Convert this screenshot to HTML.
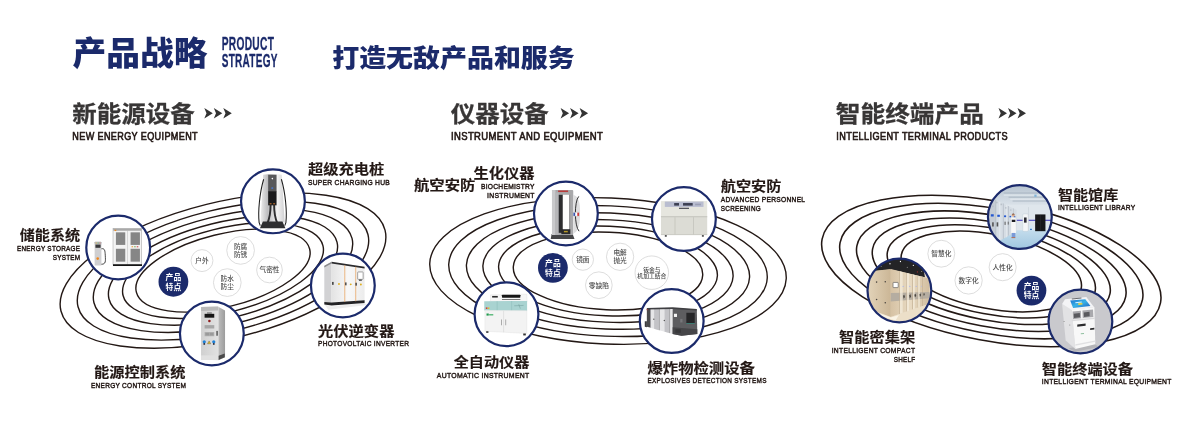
<!DOCTYPE html>
<html lang="zh-CN">
<head>
<meta charset="utf-8">
<title>产品战略</title>
<style>
html,body{margin:0;padding:0;background:#fff;}
body{width:1200px;height:422px;overflow:hidden;}
svg{display:block;will-change:transform;}
text{font-family:"Liberation Sans","Noto Sans CJK SC",sans-serif;}
.cn{font-family:"Noto Sans CJK SC","Liberation Sans",sans-serif;}
</style>
</head>
<body>
<svg width="1200" height="422" viewBox="0 0 1200 422">
<rect width="1200" height="422" fill="#fff"/>
<text transform="translate(72.6 65) scale(1.0547 1.0312)" font-size="32" font-weight="900" fill="#1b2a6b" class="cn">产品战略</text>
<text transform="translate(221.7 50.3) scale(0.3189 0.5750)" font-size="32" font-weight="700" fill="#1b2a6b" stroke="#1b2a6b" stroke-width="0.52" stroke-linejoin="round" letter-spacing="0.96">PRODUCT</text>
<text transform="translate(221.7 67.2) scale(0.3125 0.5750)" font-size="32" font-weight="700" fill="#1b2a6b" stroke="#1b2a6b" stroke-width="0.52" stroke-linejoin="round" letter-spacing="0.96">STRATEGY</text>
<text transform="translate(332.2 66.6) scale(0.8424 0.7750)" font-size="32" font-weight="900" fill="#1b2a6b" class="cn">打造无敌产品和服务</text>
<text transform="translate(72.3 122.1) scale(0.7656 0.7156)" font-size="32" font-weight="700" fill="#383636" class="cn" stroke="#383636" stroke-width="0.35" stroke-linejoin="round">新能源设备</text>
<g fill="#333">
<path d="M204.3 107.9 L212.8 113.2 L204.3 118.5 L206.5 113.2 Z"/>
<path d="M213.8 107.9 L222.3 113.2 L213.8 118.5 L216 113.2 Z"/>
<path d="M223.3 107.9 L231.8 113.2 L223.3 118.5 L225.5 113.2 Z"/>
</g>
<text transform="translate(72.3 139.9) scale(0.2842 0.3125)" font-size="32" font-weight="400" fill="#231815" stroke="#231815" stroke-width="1.92" stroke-linejoin="round" letter-spacing="1.28">NEW ENERGY EQUIPMENT</text>
<text transform="translate(450.8 122.1) scale(0.7656 0.7156)" font-size="32" font-weight="700" fill="#383636" class="cn" stroke="#383636" stroke-width="0.35" stroke-linejoin="round">仪器设备</text>
<g fill="#333">
<path d="M560.6 107.9 L569.1 113.2 L560.6 118.5 L562.8 113.2 Z"/>
<path d="M570.1 107.9 L578.6 113.2 L570.1 118.5 L572.3 113.2 Z"/>
<path d="M579.6 107.9 L588.1 113.2 L579.6 118.5 L581.8 113.2 Z"/>
</g>
<text transform="translate(451 139.9) scale(0.2966 0.3125)" font-size="32" font-weight="400" fill="#231815" stroke="#231815" stroke-width="1.92" stroke-linejoin="round" letter-spacing="1.28">INSTRUMENT AND EQUIPMENT</text>
<text transform="translate(835.8 122.1) scale(0.7719 0.7156)" font-size="32" font-weight="700" fill="#383636" class="cn" stroke="#383636" stroke-width="0.35" stroke-linejoin="round">智能终端产品</text>
<g fill="#333">
<path d="M998.5 107.9 L1007 113.2 L998.5 118.5 L1000.7 113.2 Z"/>
<path d="M1008 107.9 L1016.5 113.2 L1008 118.5 L1010.2 113.2 Z"/>
<path d="M1017.5 107.9 L1026 113.2 L1017.5 118.5 L1019.7 113.2 Z"/>
</g>
<text transform="translate(836.3 140.4) scale(0.2864 0.3125)" font-size="32" font-weight="400" fill="#231815" stroke="#231815" stroke-width="1.92" stroke-linejoin="round" letter-spacing="1.28">INTELLIGENT TERMINAL PRODUCTS</text>
<g fill="none" stroke="#231815" stroke-width="1.4">
<ellipse cx="223.0" cy="270.6" rx="89.3" ry="36.4" transform="rotate(-14 223.0 270.6)"/>
<ellipse cx="223.0" cy="270.6" rx="103.0" ry="42.0" transform="rotate(-14 223.0 270.6)"/>
<ellipse cx="223.0" cy="270.6" rx="117.5" ry="48.0" transform="rotate(-14 223.0 270.6)"/>
<ellipse cx="223.0" cy="270.6" rx="133.0" ry="54.3" transform="rotate(-14 223.0 270.6)"/>
<ellipse cx="223.0" cy="270.6" rx="149.4" ry="61.0" transform="rotate(-14 223.0 270.6)"/>
<ellipse cx="223.0" cy="270.6" rx="167.0" ry="68.2" transform="rotate(-14 223.0 270.6)"/>
</g>
<g fill="none" stroke="#231815" stroke-width="1.4">
<ellipse cx="608.0" cy="271.0" rx="94.8" ry="38.8" transform="rotate(2.5 608.0 271.0)"/>
<ellipse cx="608.0" cy="271.0" rx="109.5" ry="44.8" transform="rotate(2.5 608.0 271.0)"/>
<ellipse cx="608.0" cy="271.0" rx="125.2" ry="51.2" transform="rotate(2.5 608.0 271.0)"/>
<ellipse cx="608.0" cy="271.0" rx="141.7" ry="58.0" transform="rotate(2.5 608.0 271.0)"/>
<ellipse cx="608.0" cy="271.0" rx="159.4" ry="65.2" transform="rotate(2.5 608.0 271.0)"/>
<ellipse cx="608.0" cy="271.0" rx="178.4" ry="73.0" transform="rotate(2.5 608.0 271.0)"/>
</g>
<g fill="none" stroke="#231815" stroke-width="1.55">
<ellipse cx="991.3" cy="271.5" rx="91.5" ry="37.2" transform="rotate(10.7 991.3 271.5)"/>
<ellipse cx="991.3" cy="271.4" rx="105.7" ry="42.9" transform="rotate(10.7 991.3 271.4)"/>
<ellipse cx="991.3" cy="271.3" rx="120.8" ry="49.0" transform="rotate(10.7 991.3 271.3)"/>
<ellipse cx="991.3" cy="271.2" rx="136.8" ry="55.5" transform="rotate(10.7 991.3 271.2)"/>
<ellipse cx="991.3" cy="271.1" rx="153.9" ry="62.3" transform="rotate(10.7 991.3 271.1)"/>
<ellipse cx="991.3" cy="271.0" rx="172.2" ry="69.7" transform="rotate(10.7 991.3 271.0)"/>
</g>
<circle cx="173.4" cy="281.75" r="14.9" fill="#1b2a6b"/>
<text transform="translate(173.4 280.35) scale(0.2437 0.2437)" font-size="32" font-weight="700" fill="#fff" text-anchor="middle" class="cn">产品</text>
<text transform="translate(173.4 289.55) scale(0.2437 0.2437)" font-size="32" font-weight="700" fill="#fff" text-anchor="middle" class="cn">特点</text>
<circle cx="202" cy="260.6" r="10.950000000000001" fill="#fff" stroke="#cfcfcf" stroke-width="0.7"/>
<text transform="translate(202 263.079) scale(0.2094 0.2094)" font-size="32" font-weight="500" fill="#4a4a4a" text-anchor="middle" class="cn">户外</text>
<circle cx="240.6" cy="250.4" r="13.85" fill="#fff" stroke="#cfcfcf" stroke-width="0.7"/>
<text transform="translate(240.6 248.929) scale(0.2094 0.2094)" font-size="32" font-weight="500" fill="#4a4a4a" text-anchor="middle" class="cn">防腐</text>
<text transform="translate(240.6 256.829) scale(0.2094 0.2094)" font-size="32" font-weight="500" fill="#4a4a4a" text-anchor="middle" class="cn">防锈</text>
<circle cx="227.3" cy="282.6" r="13.85" fill="#fff" stroke="#cfcfcf" stroke-width="0.7"/>
<text transform="translate(227.3 281.129) scale(0.2094 0.2094)" font-size="32" font-weight="500" fill="#4a4a4a" text-anchor="middle" class="cn">防水</text>
<text transform="translate(227.3 289.029) scale(0.2094 0.2094)" font-size="32" font-weight="500" fill="#4a4a4a" text-anchor="middle" class="cn">防尘</text>
<circle cx="269.5" cy="270" r="12.85" fill="#fff" stroke="#cfcfcf" stroke-width="0.7"/>
<text transform="translate(269.5 272.479) scale(0.2094 0.2094)" font-size="32" font-weight="500" fill="#4a4a4a" text-anchor="middle" class="cn">气密性</text>
<circle cx="552.9" cy="267.85" r="14.9" fill="#1b2a6b"/>
<text transform="translate(552.9 266.45) scale(0.2437 0.2437)" font-size="32" font-weight="700" fill="#fff" text-anchor="middle" class="cn">产品</text>
<text transform="translate(552.9 275.65) scale(0.2437 0.2437)" font-size="32" font-weight="700" fill="#fff" text-anchor="middle" class="cn">特点</text>
<circle cx="582.85" cy="259.65" r="10.65" fill="#fff" stroke="#cfcfcf" stroke-width="0.7"/>
<text transform="translate(582.85 262.129) scale(0.2094 0.2094)" font-size="32" font-weight="500" fill="#4a4a4a" text-anchor="middle" class="cn">镜面</text>
<circle cx="620.1" cy="256.8" r="13.65" fill="#fff" stroke="#cfcfcf" stroke-width="0.7"/>
<text transform="translate(620.1 255.329) scale(0.2094 0.2094)" font-size="32" font-weight="500" fill="#4a4a4a" text-anchor="middle" class="cn">电解</text>
<text transform="translate(620.1 263.229) scale(0.2094 0.2094)" font-size="32" font-weight="500" fill="#4a4a4a" text-anchor="middle" class="cn">抛光</text>
<circle cx="598.85" cy="285.2" r="13.35" fill="#fff" stroke="#cfcfcf" stroke-width="0.7"/>
<text transform="translate(598.85 287.679) scale(0.2094 0.2094)" font-size="32" font-weight="500" fill="#4a4a4a" text-anchor="middle" class="cn">零缺陷</text>
<circle cx="651.8" cy="272.7" r="16.75" fill="#fff" stroke="#cfcfcf" stroke-width="0.7"/>
<text transform="translate(651.8 271.546) scale(0.1812 0.1812)" font-size="32" font-weight="500" fill="#4a4a4a" text-anchor="middle" class="cn">钣金与</text>
<text transform="translate(651.8 278.146) scale(0.1812 0.1812)" font-size="32" font-weight="500" fill="#4a4a4a" text-anchor="middle" class="cn">机加工结合</text>
<circle cx="1031.45" cy="290.6" r="14.9" fill="#1b2a6b"/>
<text transform="translate(1031.45 289.2) scale(0.2437 0.2437)" font-size="32" font-weight="700" fill="#fff" text-anchor="middle" class="cn">产品</text>
<text transform="translate(1031.45 298.4) scale(0.2437 0.2437)" font-size="32" font-weight="700" fill="#fff" text-anchor="middle" class="cn">特点</text>
<circle cx="941.3" cy="253.7" r="13.450000000000001" fill="#fff" stroke="#cfcfcf" stroke-width="0.7"/>
<text transform="translate(941.3 256.179) scale(0.2094 0.2094)" font-size="32" font-weight="500" fill="#4a4a4a" text-anchor="middle" class="cn">智慧化</text>
<circle cx="968.6" cy="280.45" r="13.65" fill="#fff" stroke="#cfcfcf" stroke-width="0.7"/>
<text transform="translate(968.6 282.929) scale(0.2094 0.2094)" font-size="32" font-weight="500" fill="#4a4a4a" text-anchor="middle" class="cn">数字化</text>
<circle cx="1002.65" cy="267.2" r="13.55" fill="#fff" stroke="#cfcfcf" stroke-width="0.7"/>
<text transform="translate(1002.65 269.679) scale(0.2094 0.2094)" font-size="32" font-weight="500" fill="#4a4a4a" text-anchor="middle" class="cn">人性化</text>
<defs>
<clipPath id="cc"><circle r="32"/></clipPath>
<linearGradient id="gSilver" x1="0" x2="1" y1="0" y2="0"><stop offset="0" stop-color="#ededed"/><stop offset="0.3" stop-color="#bcbcbe"/><stop offset="0.7" stop-color="#f2f2f2"/><stop offset="1" stop-color="#d0d0d2"/></linearGradient>
<linearGradient id="gFace" x1="0" x2="1" y1="0" y2="0"><stop offset="0" stop-color="#e3e3e3"/><stop offset="0.5" stop-color="#f8f8f8"/><stop offset="1" stop-color="#ececec"/></linearGradient>
<linearGradient id="gCab" x1="0" x2="1" y1="0" y2="0"><stop offset="0" stop-color="#d0d0d0"/><stop offset="1" stop-color="#e2e2e2"/></linearGradient>
<linearGradient id="gSide" x1="0" x2="1" y1="0" y2="0"><stop offset="0" stop-color="#bdbdbd"/><stop offset="1" stop-color="#9c9c9c"/></linearGradient>
<linearGradient id="gFloor" x1="0" x2="0" y1="0" y2="1"><stop offset="0" stop-color="#c3dcec"/><stop offset="1" stop-color="#9cc4de"/></linearGradient>
<linearGradient id="gCeil" x1="0" x2="0" y1="0" y2="1"><stop offset="0" stop-color="#b4c1ce"/><stop offset="1" stop-color="#d9e1e8"/></linearGradient>
<linearGradient id="gBeige" x1="0" x2="1" y1="0" y2="0"><stop offset="0" stop-color="#d6c2a4"/><stop offset="0.5" stop-color="#e8dac2"/><stop offset="1" stop-color="#d2bea0"/></linearGradient>
<linearGradient id="gBeige2" x1="0" x2="1" y1="0" y2="0"><stop offset="0" stop-color="#e3d4ba"/><stop offset="1" stop-color="#cbb696"/></linearGradient>
<linearGradient id="gScreen" x1="0" x2="1" y1="0" y2="1"><stop offset="0" stop-color="#1c6fd0"/><stop offset="0.5" stop-color="#39b3e6"/><stop offset="1" stop-color="#1f5fc0"/></linearGradient>
</defs>
<g transform="translate(272.95 201.35)">
<circle r="32" fill="#fff"/>
<g clip-path="url(#cc)"><g transform="scale(0.16113) translate(-210.7 -213.2)">

<path d="M150 48 Q207 40 265 48 L284 345 L133 345 Z" fill="url(#gSilver)"/>
<path d="M153 76 C128 160 117 280 125 345 L132 364" fill="none" stroke="#1c1c1c" stroke-width="6.5"/>
<path d="M263 76 C288 160 299 280 291 345 L284 364" fill="none" stroke="#1c1c1c" stroke-width="6.5"/>
<rect x="181" y="48" width="52" height="104" fill="#58585a"/>
<rect x="181" y="150" width="52" height="88" fill="#1a1a1c"/>
<rect x="190" y="224" width="12" height="8" fill="#a0602a"/><rect x="212" y="224" width="12" height="8" fill="#a0602a"/>
<circle cx="207" cy="72" r="5" fill="#fff"/>
<rect x="201" y="126" width="11" height="10" fill="#4a76c8"/>
<path d="M196 236 C196 290 188 322 176 350" fill="none" stroke="#2e2e30" stroke-width="12"/>
<path d="M218 236 C218 290 226 322 238 350" fill="none" stroke="#2e2e30" stroke-width="12"/>
<path d="M148 338 L270 338 L288 380 L130 380 Z" fill="#2f2f31"/>
</g></g>
<circle r="31.9" fill="none" stroke="#1b2a6b" stroke-width="2.2"/>
</g>
<g transform="translate(118.2 247.5)">
<circle r="32" fill="#fff"/>
<g clip-path="url(#cc)"><g transform="scale(0.16113) translate(-212.2 -214.1)">

<rect x="180" y="95" width="178" height="228" fill="#f3f3f3" stroke="#9a9a9a" stroke-width="3"/>
<rect x="181" y="96" width="176" height="14" fill="#a9a9a9"/>
<rect x="190" y="104" width="10" height="8" fill="#f08a1c"/>
<line x1="270" y1="110" x2="270" y2="320" stroke="#b5b5b5" stroke-width="3"/>
<rect x="198" y="120" width="58" height="78" fill="#868686"/>
<rect x="289" y="120" width="58" height="78" fill="#868686"/>
<rect x="198" y="222" width="58" height="80" fill="#868686"/>
<rect x="289" y="222" width="58" height="80" fill="#868686"/>
<rect x="295" y="206" width="10" height="7" fill="#e8a040"/><rect x="311" y="206" width="10" height="7" fill="#7db36a"/><rect x="327" y="206" width="10" height="7" fill="#d05050"/>
<rect x="180" y="318" width="180" height="11" fill="#151515"/>
<rect x="66" y="178" width="42" height="148" rx="4" fill="#cfcfd1"/>
<rect x="66" y="178" width="42" height="18" rx="4" fill="#bdbdbf"/>
<rect x="71" y="196" width="32" height="20" fill="#3a3a3c"/>
<rect x="72" y="184" width="8" height="5" fill="#e0b040"/><rect x="84" y="184" width="8" height="5" fill="#60b060"/><rect x="95" y="184" width="8" height="5" fill="#d06060"/>
<circle cx="85" cy="283" r="8" fill="#f0861c"/>
<path d="M108 222 C130 218 130 235 132 262 C134 300 136 318 108 318" fill="none" stroke="#1c1c1c" stroke-width="5"/>
</g></g>
<circle r="31.9" fill="none" stroke="#1b2a6b" stroke-width="2.2"/>
</g>
<g transform="translate(342.85 285.5)">
<circle r="32" fill="#fff"/>
<g clip-path="url(#cc)"><g transform="scale(0.16113) translate(-210.1 -214.1)">

<path d="M95 330 L135 345 L345 322 L360 335 L120 365 Z" fill="#ededed"/>
<path d="M95 93 L140 68 L140 320 L95 318 Z" fill="#d2d2d4"/>
<path d="M140 68 L345 100 L345 308 L140 320 Z" fill="url(#gFace)"/>
<path d="M140 66 L345 97 L345 108 L140 78 Z" fill="#2b2b2d"/>
<path d="M95 92 L140 66 L140 78 L95 102 Z" fill="#8a8a8c"/>
<path d="M95 316 L140 320 L345 306 L345 322 L140 338 L95 332 Z" fill="#232325"/>
<line x1="222" y1="88" x2="222" y2="316" stroke="#e8a868" stroke-width="5"/>
<line x1="290" y1="98" x2="290" y2="312" stroke="#e8a868" stroke-width="5"/>
<rect x="302" y="130" width="34" height="46" rx="3" fill="#fff" stroke="#8c8c8c" stroke-width="5"/>
<rect x="310" y="176" width="18" height="10" fill="#666"/>
<rect x="143" y="192" width="10" height="18" fill="#444"/><rect x="224" y="195" width="9" height="18" fill="#444"/><rect x="288" y="197" width="9" height="18" fill="#444"/>
<circle cx="186" cy="205" r="6" fill="#e0b020"/><circle cx="259" cy="207" r="6" fill="#e0b020"/><circle cx="322" cy="208" r="6" fill="#e0b020"/>
</g></g>
<circle r="31.9" fill="none" stroke="#1b2a6b" stroke-width="2.2"/>
</g>
<g transform="translate(211.85 333.5)">
<circle r="32" fill="#fff"/>
<g clip-path="url(#cc)"><g transform="scale(0.16113) translate(-210.1 -214.1)">

<path d="M250 48 L292 72 L292 362 L250 380 Z" fill="url(#gSide)"/>
<path d="M143 50 L250 47 L250 380 L143 376 Z" fill="url(#gCab)"/>
<path d="M143 50 L250 47 L250 72 L143 74 Z" fill="#b9b9b9"/>
<rect x="165" y="92" width="60" height="24" fill="#161616"/>
<rect x="180" y="84" width="30" height="6" fill="#555"/>
<circle cx="195" cy="137" r="8" fill="#8f1d1d"/>
<rect x="165" y="162" width="60" height="21" fill="#a6a6a6"/>
<rect x="165" y="205" width="60" height="26" fill="#b0b0b0"/>
<rect x="170" y="210" width="23" height="16" fill="#9a9a9a"/><rect x="197" y="210" width="23" height="16" fill="#9a9a9a"/>
<rect x="238" y="198" width="9" height="30" fill="#555"/>
<circle cx="163" cy="266" r="10" fill="#1f82d8"/><rect x="158" y="274" width="10" height="10" fill="#223"/>
<circle cx="222" cy="266" r="10" fill="#1f82d8"/><rect x="217" y="274" width="10" height="10" fill="#223"/>
<path d="M193 260 L203 278 L183 278 Z" fill="#e8c020" stroke="#333" stroke-width="2"/>
<rect x="143" y="350" width="107" height="28" fill="#e1e1e1"/>
<path d="M252 352 L290 338 L290 362 L252 378 Z" fill="#4a4a4a"/>
</g></g>
<circle r="31.9" fill="none" stroke="#1b2a6b" stroke-width="2.2"/>
</g>
<g transform="translate(565.9 213.5)">
<circle r="32" fill="#fff"/>
<g clip-path="url(#cc)"><g transform="scale(0.16113) translate(-210.4 -214.1)">

<path d="M122 342 L252 342 L264 372 L116 372 Z" fill="#454547"/>
<rect x="124" y="68" width="132" height="280" rx="6" fill="#a9a9ab"/>
<rect x="124" y="68" width="22" height="280" rx="4" fill="#c9c9cb"/>
<rect x="146" y="84" width="20" height="262" fill="#b6b6b8"/>
<rect x="166" y="98" width="26" height="236" fill="#2c2c2e"/>
<rect x="191" y="98" width="40" height="215" fill="#fdfdfd"/>
<rect x="231" y="98" width="6" height="236" fill="#8e8e90"/>
<rect x="162" y="71" width="62" height="10" fill="#b83c3c"/>
<rect x="182" y="312" width="56" height="30" fill="#2a2a2c"/>
<rect x="198" y="322" width="24" height="9" fill="#b89a28"/>
<path d="M255 98 Q302 108 298 215 Q300 320 258 337 Z" fill="#dededf"/>
<path d="M290 108 C262 140 262 290 292 324" fill="none" stroke="#2a2a2c" stroke-width="6"/>
<rect x="256" y="207" width="36" height="24" rx="4" fill="#fff" stroke="#999" stroke-width="2"/>
<rect x="257" y="209" width="11" height="20" fill="#3a56b0"/><rect x="281" y="209" width="11" height="20" fill="#d03a3a"/>
</g></g>
<circle r="31.9" fill="none" stroke="#1b2a6b" stroke-width="2.2"/>
</g>
<g transform="translate(683.9 219.06)">
<circle r="32" fill="#fff"/>
<g clip-path="url(#cc)"><g transform="scale(0.16113) translate(-210.4 -211.4)">

<rect x="68" y="100" width="287" height="100" fill="#e6e6df"/>
<rect x="68" y="196" width="287" height="114" fill="#dcdcd5"/>
<rect x="68" y="194" width="287" height="6" fill="#c2c2bb"/>
<rect x="92" y="103" width="240" height="33" fill="#b9bdd0"/>
<rect x="150" y="112" width="30" height="16" fill="#3c3f52"/>
<rect x="205" y="112" width="60" height="16" fill="#3c3f52"/>
<rect x="280" y="116" width="36" height="10" fill="#9a9eb4"/>
<rect x="180" y="141" width="62" height="8" fill="#55565e"/>
<line x1="155" y1="200" x2="155" y2="308" stroke="#bdbdb6" stroke-width="4"/>
<line x1="270" y1="200" x2="270" y2="308" stroke="#bdbdb6" stroke-width="4"/>
<rect x="68" y="306" width="287" height="5" fill="#c6c6bf"/>
<rect x="92" y="311" width="12" height="10" fill="#444"/><rect x="322" y="311" width="12" height="10" fill="#444"/>
</g></g>
<circle r="31.9" fill="none" stroke="#1b2a6b" stroke-width="2.2"/>
</g>
<g transform="translate(506.5 314.25)">
<circle r="32" fill="#fff"/>
<g clip-path="url(#cc)"><g transform="scale(0.16113) translate(-214.1 -212.6)">

<path d="M115 92 L340 88 L342 135 L115 135 Z" fill="#f6f6f6" stroke="#d8d8d8" stroke-width="2"/>
<rect x="186" y="92" width="114" height="18" rx="3" fill="#171717"/>
<rect x="186" y="118" width="114" height="5" fill="#555"/>
<rect x="125" y="99" width="35" height="10" fill="#2a2a2a"/>
<path d="M76 132 L342 130 L342 192 L76 190 Z" fill="#a9d3d1"/>
<line x1="156" y1="132" x2="156" y2="190" stroke="#86b8b6" stroke-width="3"/>
<line x1="246" y1="131" x2="246" y2="190" stroke="#86b8b6" stroke-width="3"/>
<rect x="86" y="170" width="10" height="10" fill="#d04040"/><rect x="98" y="170" width="10" height="10" fill="#e0c030"/>
<path d="M262 160 L320 158 M290 150 L300 178" stroke="#6e9a98" stroke-width="3" fill="none"/>
<path d="M80 190 L340 190 L340 332 L80 318 Z" fill="#f3f3f3" stroke="#dadada" stroke-width="2"/>
<line x1="196" y1="192" x2="196" y2="324" stroke="#cfcfcf" stroke-width="3"/>
<rect x="180" y="245" width="5" height="36" fill="#9a9a9a"/><rect x="207" y="245" width="5" height="36" fill="#9a9a9a"/>
<rect x="90" y="208" width="14" height="13" fill="#1f9a4c"/><rect x="106" y="212" width="26" height="8" fill="#49b26e"/>
<rect x="88" y="318" width="14" height="10" fill="#333"/><rect x="318" y="332" width="16" height="12" fill="#333"/>
</g></g>
<circle r="31.9" fill="none" stroke="#1b2a6b" stroke-width="2.2"/>
</g>
<g transform="translate(671.7 321.06)">
<circle r="32" fill="#fff"/>
<g clip-path="url(#cc)"><g transform="scale(0.16113) translate(-209.1 -211.4)">

<path d="M42 212 L56 212 L56 250 L42 246 Z" fill="#3a3a3c"/>
<path d="M55 135 L215 130 L215 292 L55 246 Z" fill="#e6e6e8"/>
<path d="M55 135 L76 134 L76 252 L55 246 Z" fill="#4a4a4c"/>
<path d="M100 134 L130 133 L130 268 L100 259 Z" fill="#c3c3c7"/>
<path d="M165 132 L195 131 L195 286 L165 278 Z" fill="#c3c3c7"/>
<path d="M76 134 L80 134 L80 253 L76 252 Z M130 133 L134 133 L134 269 L130 268 Z M195 131 L199 131 L199 287 L195 286 Z" fill="#8a8a8e"/>
<circle cx="98" cy="200" r="4" fill="#444"/><circle cx="163" cy="208" r="4" fill="#444"/>
<path d="M215 130 L365 140 L368 292 L270 302 L215 292 Z" fill="#5d5d60"/>
<path d="M55 130 L215 125 L365 136 L365 146 L215 136 L55 140 Z" fill="#3f3f42"/>
<path d="M215 250 L368 262 L368 292 L270 302 L215 292 Z" fill="#454548"/>
<rect x="300" y="160" width="52" height="64" fill="#262628"/>
<rect x="300" y="224" width="52" height="4" fill="#2f8f80"/>
<rect x="223" y="166" width="19" height="20" fill="#f4f4f4"/>
<rect x="262" y="198" width="14" height="22" fill="#77777a"/>
<rect x="232" y="262" width="34" height="22" fill="#38383a"/>
<rect x="54" y="136" width="6" height="8" fill="#c03030"/>
</g></g>
<circle r="31.9" fill="none" stroke="#1b2a6b" stroke-width="2.2"/>
</g>
<g transform="translate(1019.85 217.06)">
<circle r="32" fill="#fff"/>
<g clip-path="url(#cc)"><g transform="scale(0.16113) translate(-210.1 -211.4)">

<rect x="0" y="0" width="422" height="422" fill="#dfe6ec"/>
<rect x="0" y="0" width="422" height="135" fill="url(#gCeil)"/>
<path d="M110 62 L400 62 M140 88 L400 88 M165 112 L400 112" stroke="#a3b0bd" stroke-width="5" fill="none"/>
<path d="M110 75 L400 75 M150 100 L400 100" stroke="#e6ecf1" stroke-width="6" fill="none"/>
<rect x="300" y="72" width="14" height="14" fill="#7fb2d8"/>
<path d="M0 300 L190 293 L422 293 L422 422 L0 422 Z" fill="url(#gFloor)"/>
<rect x="190" y="228" width="232" height="7" fill="#4a45c0"/>
<rect x="262" y="150" width="4" height="144" fill="#c8d0d8"/>
<path d="M10 80 L190 168 L190 300 L80 362 L10 380 Z" fill="#d6dde4"/>
<path d="M10 80 L60 104 L60 368 L10 380 Z" fill="#c5ccd4"/>
<path d="M60 104 L63 105 L63 368 L60 368 Z M105 126 L108 127 L108 346 L105 348 Z M140 143 L143 144 L143 326 L140 328 Z M168 157 L170 158 L170 311 L168 312 Z" fill="#9fa8b2"/>
<path d="M84 116 L88 118 L88 356 L84 358 Z M124 135 L127 136 L127 336 L124 338 Z" fill="#eef2f5"/>
<rect x="30" y="194" width="18" height="14" fill="#2458d0"/><rect x="70" y="197" width="16" height="13" fill="#2458d0"/><rect x="112" y="201" width="13" height="11" fill="#2458d0"/><rect x="146" y="204" width="10" height="9" fill="#2458d0"/><rect x="174" y="206" width="8" height="8" fill="#2458d0"/>
<rect x="38" y="244" width="10" height="26" fill="#555"/><rect x="66" y="244" width="10" height="26" fill="#555"/><rect x="115" y="240" width="7" height="20" fill="#666"/><rect x="135" y="240" width="6" height="18" fill="#666"/>
<rect x="36" y="140" width="12" height="10" fill="#b9c1c9"/><rect x="62" y="116" width="10" height="10" fill="#b9c1c9"/><rect x="90" y="128" width="10" height="10" fill="#b9c1c9"/><rect x="118" y="150" width="9" height="9" fill="#b9c1c9"/><rect x="150" y="164" width="8" height="8" fill="#b9c1c9"/>
<rect x="305" y="195" width="64" height="104" fill="#17171a"/>
<rect x="336" y="198" width="2" height="98" fill="#3a3a40"/>
<rect x="228" y="192" width="34" height="108" rx="6" fill="#f4f6f8" stroke="#b8c2cc" stroke-width="2"/>
<rect x="236" y="214" width="16" height="32" fill="#2c2c34"/>
<rect x="268" y="264" width="22" height="30" rx="5" fill="#d4e8f6"/>
<rect x="273" y="284" width="12" height="8" fill="#3a78c8"/>
<circle cx="169" cy="200" r="9" fill="#d9a888"/><path d="M160 196 Q169 184 179 196 Z" fill="#6a4030"/>
<path d="M156 214 L184 214 L186 310 L156 310 Z" fill="#f8f8f8"/>
<rect x="160" y="228" width="22" height="14" fill="#1e1e24"/>
<rect x="160" y="310" width="22" height="26" fill="#7a9ad8"/>
<rect x="158" y="336" width="24" height="6" fill="#b06a50"/>
</g></g>
<circle r="31.9" fill="none" stroke="#1b2a6b" stroke-width="2.2"/>
</g>
<g transform="translate(899.4 290.5)">
<circle r="32" fill="#fff"/>
<g clip-path="url(#cc)"><g transform="scale(0.16113) translate(-213.5 -214.1)">

<rect x="0" y="0" width="422" height="422" fill="#e9dfcd"/>
<path d="M60 0 L350 0 L372 132 L160 84 L30 96 Z" fill="#242426"/>
<circle cx="155" cy="48" r="4" fill="#fff"/><circle cx="220" cy="34" r="4" fill="#fff"/><circle cx="300" cy="58" r="4" fill="#fff"/><circle cx="100" cy="66" r="3" fill="#ddd"/><circle cx="352" cy="96" r="3" fill="#ddd"/><circle cx="262" cy="70" r="3" fill="#ddd"/>
<rect x="322" y="96" width="6" height="6" fill="#c83030"/>
<path d="M160 80 L400 140 L400 296 L160 378 Z" fill="url(#gBeige)"/>
<path d="M14 98 L160 80 L160 378 L14 326 Z" fill="url(#gBeige2)"/>
<path d="M160 230 L400 224 L400 262 L160 282 Z" fill="#b5ada1"/>
<path d="M213 93 L216 94 L216 360 L213 361 Z M256 104 L259 105 L259 345 L256 346 Z M294 114 L297 115 L297 332 L294 333 Z M328 123 L330 124 L330 320 L328 321 Z M356 130 L358 131 L358 311 L356 312 Z" fill="#ae9878"/>
<path d="M216 94 L234 99 L234 354 L216 360 Z M259 105 L273 108 L273 341 L259 345 Z M297 115 L309 118 L309 328 L297 332 Z M330 124 L340 127 L340 317 L330 320 Z" fill="#f4ecdc" opacity="0.75"/>
<rect x="174" y="164" width="32" height="32" rx="3" fill="#fff" stroke="#5a5a5a" stroke-width="4"/>
<circle cx="237" cy="188" r="4" fill="#a8b4f0"/><circle cx="278" cy="188" r="4" fill="#a8b4f0"/><circle cx="318" cy="188" r="4" fill="#a8b4f0"/><circle cx="350" cy="188" r="3" fill="#a8b4f0"/>
<path d="M236 246 l8 -6 l4 14 l-8 12 Z M274 243 l8 -6 l4 14 l-8 12 Z M306 240 l8 -6 l4 13 l-8 11 Z M338 237 l7 -5 l3 12 l-7 10 Z M362 234 l6 -5 l3 11 l-6 9 Z" fill="#4a4640"/>
<circle cx="72" cy="162" r="5" fill="#4c4640"/><circle cx="126" cy="160" r="5" fill="#4c4640"/><circle cx="72" cy="270" r="5" fill="#4c4640"/><circle cx="126" cy="290" r="5" fill="#4c4640"/>
<path d="M14 326 L160 378 L400 296 L422 300 L422 422 L0 422 L0 330 Z" fill="#ecdfc8"/>
<path d="M60 345 L160 382 L210 366 L190 400 L60 362 Z" fill="#faf4e6"/>
</g></g>
<circle r="31.9" fill="none" stroke="#1b2a6b" stroke-width="2.2"/>
</g>
<g transform="translate(1080.4 321.5)">
<circle r="32" fill="#fff"/>
<g clip-path="url(#cc)"><g transform="scale(0.16113) translate(-213.5 -214.1)">

<rect x="0" y="0" width="422" height="422" fill="#c9c9cd"/>
<path d="M140 380 L300 352 L330 372 L180 402 Z" fill="#b4b4b8"/>
<path d="M100 105 L160 140 L182 385 L122 332 Z" fill="#e2e2e4"/>
<path d="M160 140 L300 124 L306 355 L182 385 Z" fill="#f8f8f8"/>
<path d="M118 76 L250 62 L298 124 L160 142 L100 106 Z" fill="#f4f4f6"/>
<path d="M150 84 L244 76 L276 118 L168 130 Z" fill="url(#gScreen)"/>
<rect x="200" y="100" width="26" height="10" fill="#f0d040" transform="rotate(-6 213 105)"/>
<rect x="182" y="92" width="40" height="7" fill="#d8f0ff" transform="rotate(-6 200 95)"/>
<rect x="160" y="68" width="60" height="6" fill="#6a6a6e" transform="rotate(-6 190 71)"/>
<path d="M165 152 L216 147 L218 194 L168 200 Z" fill="#a9a9ad"/>
<path d="M226 146 L292 139 L294 186 L228 193 Z" fill="#a9a9ad"/>
<path d="M172 166 L210 162 L211 188 L174 192 Z" fill="#5a5a5e"/>
<path d="M234 158 L270 154 L271 182 L236 186 Z" fill="#5a5a5e"/>
<path d="M160 204 L302 190 L302 198 L160 212 Z" fill="#dadadc"/>
<path d="M194 232 L246 226 L246 240 L194 246 Z" fill="#2c2c2e"/>
<path d="M274 256 L300 253 L300 264 L274 267 Z" fill="#2c2c2e"/>
<rect x="216" y="286" width="20" height="6" fill="#8fbf9f" transform="rotate(-6 226 289)"/>
<path d="M182 356 L306 332 L306 340 L182 364 Z" fill="#e0e0e2"/>
<circle cx="112" cy="214" r="3" fill="#555"/><circle cx="148" cy="236" r="3" fill="#555"/>
</g></g>
<circle r="31.9" fill="none" stroke="#1b2a6b" stroke-width="2.2"/>
</g>
<text transform="translate(308 174.3) scale(0.4769 0.4344)" font-size="32" font-weight="700" fill="#231815" class="cn" stroke="#231815" stroke-width="0.35" stroke-linejoin="round">超级充电桩</text>
<text transform="translate(308 185.45) scale(0.2104 0.2500)" font-size="32" font-weight="400" fill="#231815" stroke="#231815" stroke-width="1.80" stroke-linejoin="round" letter-spacing="1.28">SUPER CHARGING HUB</text>
<text transform="translate(19.7 239.9) scale(0.4727 0.4344)" font-size="32" font-weight="700" fill="#231815" class="cn" stroke="#231815" stroke-width="0.35" stroke-linejoin="round">储能系统</text>
<text transform="translate(16.9 250.85) scale(0.2003 0.2500)" font-size="32" font-weight="400" fill="#231815" stroke="#231815" stroke-width="1.80" stroke-linejoin="round" letter-spacing="1.28">ENERGY STORAGE</text>
<text transform="translate(52.7 259.95) scale(0.1993 0.2500)" font-size="32" font-weight="400" fill="#231815" stroke="#231815" stroke-width="1.80" stroke-linejoin="round" letter-spacing="1.28">SYSTEM</text>
<text transform="translate(318 336) scale(0.4781 0.4344)" font-size="32" font-weight="700" fill="#231815" class="cn" stroke="#231815" stroke-width="0.35" stroke-linejoin="round">光伏逆变器</text>
<text transform="translate(318 346.45) scale(0.2063 0.2500)" font-size="32" font-weight="400" fill="#231815" stroke="#231815" stroke-width="1.80" stroke-linejoin="round" letter-spacing="1.28">PHOTOVOLTAIC INVERTER</text>
<text transform="translate(94 377.3) scale(0.4766 0.4344)" font-size="32" font-weight="700" fill="#231815" class="cn" stroke="#231815" stroke-width="0.35" stroke-linejoin="round">能源控制系统</text>
<text transform="translate(91 387.85) scale(0.2044 0.2500)" font-size="32" font-weight="400" fill="#231815" stroke="#231815" stroke-width="1.80" stroke-linejoin="round" letter-spacing="1.28">ENERGY CONTROL SYSTEM</text>
<text transform="translate(414 190.2) scale(0.4789 0.4344)" font-size="32" font-weight="700" fill="#231815" class="cn" stroke="#231815" stroke-width="0.35" stroke-linejoin="round">航空安防</text>
<text transform="translate(473.5 177.8) scale(0.4766 0.4344)" font-size="32" font-weight="700" fill="#231815" class="cn" stroke="#231815" stroke-width="0.35" stroke-linejoin="round">生化仪器</text>
<text transform="translate(481 188.65) scale(0.2081 0.2500)" font-size="32" font-weight="400" fill="#231815" stroke="#231815" stroke-width="1.80" stroke-linejoin="round" letter-spacing="1.28">BIOCHEMISTRY</text>
<text transform="translate(487 197.75) scale(0.2147 0.2500)" font-size="32" font-weight="400" fill="#231815" stroke="#231815" stroke-width="1.80" stroke-linejoin="round" letter-spacing="1.28">INSTRUMENT</text>
<text transform="translate(720.8 191.3) scale(0.4734 0.4344)" font-size="32" font-weight="700" fill="#231815" class="cn" stroke="#231815" stroke-width="0.35" stroke-linejoin="round">航空安防</text>
<text transform="translate(720.8 201.55) scale(0.2094 0.2500)" font-size="32" font-weight="400" fill="#231815" stroke="#231815" stroke-width="1.80" stroke-linejoin="round" letter-spacing="1.28">ADVANCED PERSONNEL</text>
<text transform="translate(720.8 210.65) scale(0.1995 0.2500)" font-size="32" font-weight="400" fill="#231815" stroke="#231815" stroke-width="1.80" stroke-linejoin="round" letter-spacing="1.28">SCREENING</text>
<text transform="translate(453.7 366.7) scale(0.4725 0.4344)" font-size="32" font-weight="700" fill="#231815" class="cn" stroke="#231815" stroke-width="0.35" stroke-linejoin="round">全自动仪器</text>
<text transform="translate(436.8 377.55) scale(0.2159 0.2500)" font-size="32" font-weight="400" fill="#231815" stroke="#231815" stroke-width="1.80" stroke-linejoin="round" letter-spacing="1.28">AUTOMATIC INSTRUMENT</text>
<text transform="translate(647.5 372.8) scale(0.4799 0.4344)" font-size="32" font-weight="700" fill="#231815" class="cn" stroke="#231815" stroke-width="0.35" stroke-linejoin="round">爆炸物检测设备</text>
<text transform="translate(647.5 383.15) scale(0.2018 0.2500)" font-size="32" font-weight="400" fill="#231815" stroke="#231815" stroke-width="1.80" stroke-linejoin="round" letter-spacing="1.28">EXPLOSIVES DETECTION SYSTEMS</text>
<text transform="translate(1057.9 200.3) scale(0.4719 0.4344)" font-size="32" font-weight="700" fill="#231815" class="cn" stroke="#231815" stroke-width="0.35" stroke-linejoin="round">智能馆库</text>
<text transform="translate(1057.9 210.15) scale(0.2067 0.2500)" font-size="32" font-weight="400" fill="#231815" stroke="#231815" stroke-width="1.80" stroke-linejoin="round" letter-spacing="1.28">INTELLIGENT LIBRARY</text>
<text transform="translate(839 342) scale(0.4763 0.4344)" font-size="32" font-weight="700" fill="#231815" class="cn" stroke="#231815" stroke-width="0.35" stroke-linejoin="round">智能密集架</text>
<text transform="translate(831.7 352.55) scale(0.2113 0.2500)" font-size="32" font-weight="400" fill="#231815" stroke="#231815" stroke-width="1.80" stroke-linejoin="round" letter-spacing="1.28">INTELLIGENT COMPACT</text>
<text transform="translate(893.7 361.65) scale(0.1986 0.2500)" font-size="32" font-weight="400" fill="#231815" stroke="#231815" stroke-width="1.80" stroke-linejoin="round" letter-spacing="1.28">SHELF</text>
<text transform="translate(1041.8 374.2) scale(0.4755 0.4344)" font-size="32" font-weight="700" fill="#231815" class="cn" stroke="#231815" stroke-width="0.35" stroke-linejoin="round">智能终端设备</text>
<text transform="translate(1041.8 383.65) scale(0.2128 0.2500)" font-size="32" font-weight="400" fill="#231815" stroke="#231815" stroke-width="1.80" stroke-linejoin="round" letter-spacing="1.28">INTELLIGENT TERMINAL EQUIPMENT</text>
</svg>
</body>
</html>
